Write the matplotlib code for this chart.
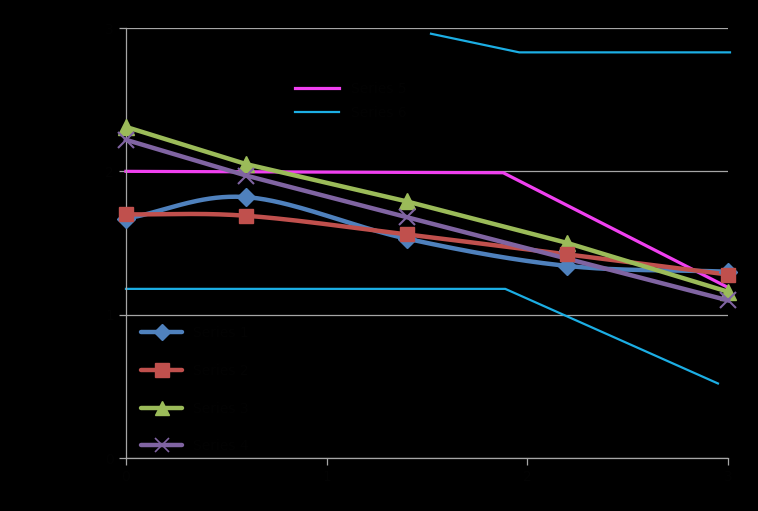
"""Black-background line chart: four marker series plus two plain reference lines."""

import matplotlib

matplotlib.use("Agg", force=True)
import matplotlib.pyplot as plt
import numpy as np

# marker series share the same x positions
x_pts = [0.0, 0.6, 1.4, 2.2, 3.0]
series_a = [1.67, 1.82, 1.53, 1.34, 1.30]  # blue diamonds (smoothed)
series_b = [1.70, 1.69, 1.56, 1.42, 1.28]  # red squares (smoothed)
series_c = [2.31, 2.05, 1.79, 1.50, 1.16]  # green triangles
series_d = [2.22, 1.97, 1.68, 1.39, 1.10]  # purple crosses

# plain reference lines
magenta_x = [0.0, 1.88, 3.0]
magenta_y = [2.00, 1.99, 1.19]
cyan_hi_x = [1.52, 1.96, 3.01]
cyan_hi_y = [2.96, 2.83, 2.83]
cyan_lo_x = [0.0, 1.89, 2.95]
cyan_lo_y = [1.18, 1.18, 0.52]

x_ticks = [0, 1, 2, 3]
y_ticks = [0, 1, 2, 3]

TEXT = "#030303"
GRID = "#a6a6a6"


def smooth(xs, ys, n=40):
    """Catmull-Rom path through the points, like a spreadsheet 'smoothed line'."""
    xs = np.asarray(xs, float)
    ys = np.asarray(ys, float)
    px = np.concatenate([[2 * xs[0] - xs[1]], xs, [2 * xs[-1] - xs[-2]]])
    py = np.concatenate([[2 * ys[0] - ys[1]], ys, [2 * ys[-1] - ys[-2]]])
    out_x, out_y = [], []
    t = np.linspace(0, 1, n)
    for i in range(1, len(px) - 2):
        for p, out in ((px, out_x), (py, out_y)):
            p0, p1, p2, p3 = p[i - 1], p[i], p[i + 1], p[i + 2]
            out.extend(
                0.5 * ((2 * p1) + (-p0 + p2) * t
                       + (2 * p0 - 5 * p1 + 4 * p2 - p3) * t ** 2
                       + (-p0 + 3 * p1 - 3 * p2 + p3) * t ** 3)
            )
    return np.array(out_x), np.array(out_y)


fig = plt.figure(figsize=(7.58, 5.11), dpi=100, facecolor="black")
ax = fig.add_axes([0.1662, 0.1037, 0.7942, 0.8415], facecolor="black")

ax.set_xlim(0, 3)
ax.set_ylim(0, 3)
ax.set_xticks(x_ticks)
ax.set_yticks(y_ticks)
ax.yaxis.grid(True, color=GRID, linewidth=0.9)
ax.set_axisbelow(True)
for side in ("top", "right"):
    ax.spines[side].set_visible(False)
for side in ("left", "bottom"):
    ax.spines[side].set_color(GRID)
    ax.spines[side].set_linewidth(0.9)
ax.tick_params(colors=GRID, labelcolor=TEXT, length=5, width=0.9)

ax.plot(magenta_x, magenta_y, color="#F040F0", linewidth=2.3, label="Series 5",
        clip_on=False, zorder=2)
ax.plot(cyan_hi_x, cyan_hi_y, color="#1CAEE4", linewidth=1.6, label="Series 6",
        clip_on=False, zorder=2)
ax.plot(cyan_lo_x, cyan_lo_y, color="#1CAEE4", linewidth=1.6, clip_on=False,
        zorder=2)

marker_specs = [
    (series_a, "#4F81BD", "D", 9, True, "Series 1"),
    (series_b, "#C0504D", "s", 10, True, "Series 2"),
    (series_c, "#9BBB59", "^", 11, False, "Series 3"),
    (series_d, "#8064A2", "x", 11, False, "Series 4"),
]
handles = []
for ys, color, marker, ms, is_smooth, label in marker_specs:
    if is_smooth:
        sx, sy = smooth(x_pts, ys)
        ax.plot(sx, sy, color=color, linewidth=3.2, solid_capstyle="round",
                clip_on=False, zorder=3)
        ax.plot(x_pts, ys, linestyle="none", marker=marker, markersize=ms,
                color=color, clip_on=False, zorder=4)
    else:
        ax.plot(x_pts, ys, color=color, linewidth=3.2, marker=marker,
                markersize=ms, markeredgewidth=1.5 if marker == "x" else 1,
                clip_on=False, zorder=3)
    h, = ax.plot([], [], color=color, linewidth=3.2, marker=marker,
                 markersize=ms * 0.95, solid_capstyle="round",
                 markeredgewidth=1.2 if marker == "x" else 1, label=label)
    handles.append(h)

top_lines = ax.get_lines()[:2]
leg1 = ax.legend(handles=top_lines, loc="upper left",
                 bbox_to_anchor=(0.26, 0.904), frameon=False,
                 handlelength=3.2, labelspacing=0.75, fontsize=10,
                 labelcolor=TEXT)
ax.add_artist(leg1)
ax.legend(handles=handles, loc="upper left", bbox_to_anchor=(0.005, 0.336),
          frameon=False, handlelength=2.9, labelspacing=1.71, fontsize=10,
          labelcolor=TEXT)

fig.savefig("out.png", dpi=100, facecolor="black")
plt.close(fig)
